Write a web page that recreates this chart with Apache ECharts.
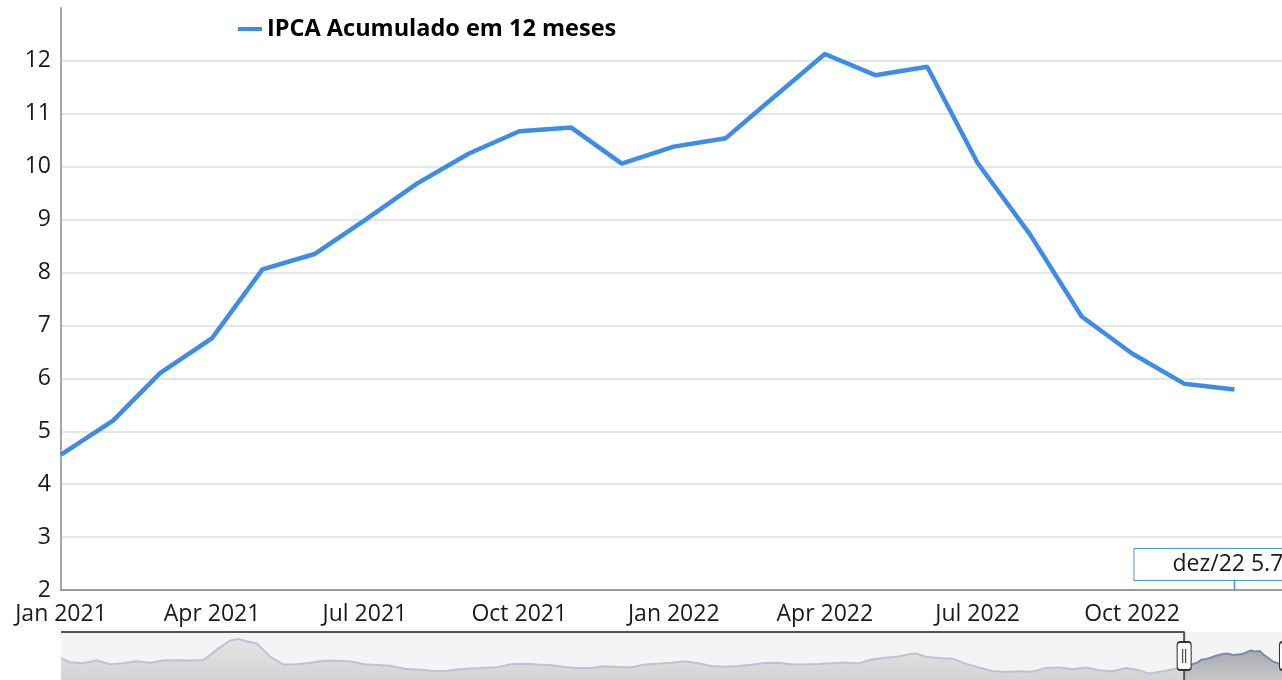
<!DOCTYPE html>
<html>
<head>
<meta charset="utf-8">
<script src="https://cdn.jsdelivr.net/npm/echarts@6/dist/echarts.min.js"></script>
<style>
html,body{margin:0;padding:0;overflow:hidden;background:#fff;}
#c{width:1300px;height:680px;}
</style>
</head>
<body>
<div id="c"></div>
<script>
// ---------------- data ----------------
const seriesName = 'IPCA Acumulado em 12 meses';

// visible window: monthly IPCA 12-month accumulated (%)
const months = ['2021-01-01','2021-02-01','2021-03-01','2021-04-01','2021-05-01','2021-06-01',
                '2021-07-01','2021-08-01','2021-09-01','2021-10-01','2021-11-01','2021-12-01',
                '2022-01-01','2022-02-01','2022-03-01','2022-04-01','2022-05-01','2022-06-01',
                '2022-07-01','2022-08-01','2022-09-01','2022-10-01','2022-11-01','2022-12-01'];
const ipca = [4.56, 5.20, 6.10, 6.76, 8.06, 8.35, 8.99, 9.68, 10.25, 10.67, 10.74, 10.06,
              10.38, 10.54, 11.30, 12.13, 11.73, 11.89, 10.07, 8.73, 7.17, 6.47, 5.90, 5.79];

// earlier history shown in the range selector
const histDates = ['2000-01-01','2000-03-01','2000-06-01','2000-09-01','2000-12-01',
  '2001-03-01','2001-06-01','2001-09-01','2001-12-01',
  '2002-03-01','2002-06-01','2002-09-01','2002-12-01',
  '2003-03-01','2003-05-01','2003-06-01','2003-09-01','2003-12-01',
  '2004-03-01','2004-06-01','2004-09-01','2004-12-01',
  '2005-03-01','2005-06-01','2005-09-01','2005-12-01',
  '2006-03-01','2006-06-01','2006-09-01','2006-12-01',
  '2007-03-01','2007-06-01','2007-09-01','2007-12-01',
  '2008-03-01','2008-06-01','2008-09-01','2008-12-01',
  '2009-03-01','2009-06-01','2009-09-01','2009-12-01',
  '2010-03-01','2010-06-01','2010-09-01','2010-12-01',
  '2011-03-01','2011-06-01','2011-09-01','2011-12-01',
  '2012-03-01','2012-06-01','2012-09-01','2012-12-01',
  '2013-03-01','2013-06-01','2013-09-01','2013-12-01',
  '2014-03-01','2014-06-01','2014-09-01','2014-12-01',
  '2015-03-01','2015-06-01','2015-09-01','2015-12-01',
  '2016-01-01','2016-03-01','2016-06-01','2016-09-01','2016-12-01',
  '2017-03-01','2017-06-01','2017-09-01','2017-12-01',
  '2018-03-01','2018-06-01','2018-09-01','2018-12-01',
  '2019-03-01','2019-06-01','2019-09-01','2019-12-01',
  '2020-03-01','2020-05-01','2020-06-01','2020-09-01','2020-12-01'];
const histValues = [8.85, 6.92, 6.51, 7.77, 5.97,
  6.44, 7.35, 6.71, 7.67,
  7.75, 7.66, 7.93, 12.53,
  16.57, 17.24, 16.57, 15.14, 9.30,
  5.89, 6.06, 6.71, 7.60,
  7.54, 7.27, 6.04, 5.69,
  5.32, 4.03, 3.70, 3.14,
  2.96, 3.69, 4.15, 4.46,
  4.73, 6.06, 6.25, 5.90,
  5.61, 4.80, 4.34, 4.31,
  5.17, 4.84, 4.70, 5.91,
  6.30, 6.71, 7.31, 6.50,
  5.24, 4.92, 5.28, 5.84,
  6.59, 6.70, 5.86, 5.91,
  6.15, 6.52, 6.75, 6.41,
  8.13, 8.89, 9.49, 10.67,
  10.71, 9.39, 8.84, 8.48, 6.29,
  4.57, 3.00, 2.54, 2.95,
  2.68, 4.39, 4.53, 3.75,
  4.58, 3.37, 2.89, 4.31,
  3.30, 1.88, 2.13, 3.14, 4.52];

const monthNamesEn = ['Jan','Feb','Mar','Apr','May','Jun','Jul','Aug','Sep','Oct','Nov','Dec'];
const monthNamesPt = ['jan','fev','mar','abr','mai','jun','jul','ago','set','out','nov','dez'];

const yMin = 2, yMax = 13, yStep = 1;
const windowStart = '2021-01-01', windowEnd = '2023-01-01';

// ---------------- chart ----------------
const FONT = "'Open Sans', 'DejaVu Sans', sans-serif";
const LINE = '#3d8de8';
const MINI_MIN = -1, MINI_MAX = 20.4;
const miniMid = (MINI_MIN + MINI_MAX) / 2;

const ts = s => +echarts.time.parse(s);
const mainData = months.map((d, i) => [d, ipca[i]]);
const histData = histDates.map((d, i) => [d, histValues[i]]).concat([[months[0], ipca[0]]]);
const last = months.length - 1;
const annText = monthNamesPt[+months[last].slice(5, 7) - 1] + '/' + months[last].slice(2, 4) + ' ' + ipca[last];
// frame of the range selector: along the top of the unselected part, then down at the window start
const frameData = [[histDates[0], MINI_MAX], [months[0], MINI_MAX], [months[0], MINI_MIN]];

const HANDLE = 'path://M3,0 L11,0 Q14,0 14,3 L14,25 Q14,28 11,28 L3,28 Q0,28 0,25 L0,3 Q0,0 3,0 Z M5.5,7 L5.5,21 M8.5,7 L8.5,21';
const DAY = 86400000;

const chart = echarts.init(document.getElementById('c'), null, {renderer: 'canvas'});
chart.setOption({
  animation: false,
  textStyle: {fontFamily: FONT},
  legend: {
    data: [seriesName],
    left: 238, top: 17, padding: 0,
    icon: 'rect', itemWidth: 24, itemHeight: 4,
    textStyle: {fontFamily: FONT, fontSize: 23.5, fontWeight: 'bold', color: '#000'}
  },
  grid: [
    {left: 61, right: 13.5, top: 8, bottom: 90},
    {left: 61, right: 13.5, top: 632, height: 48, show: true, backgroundColor: '#f4f4f4', borderWidth: 0}
  ],
  xAxis: [
    {
      type: 'time', gridIndex: 0, min: windowStart, max: windowEnd,
      splitNumber: 8, minInterval: 91 * DAY, maxInterval: 91 * DAY,
      axisLine: {lineStyle: {color: '#9c9c9c', width: 2}},
      axisTick: {show: false},
      splitLine: {show: false},
      axisLabel: {
        fontFamily: FONT, fontSize: 23, color: '#1a1a1a', margin: 13,
        showMinLabel: true, showMaxLabel: false, hideOverlap: false,
        formatter: v => { const d = new Date(v); return monthNamesEn[d.getMonth()] + ' ' + d.getFullYear(); }
      }
    },
    {type: 'time', gridIndex: 1, min: 'dataMin', max: 'dataMax', show: false}
  ],
  yAxis: [
    {
      type: 'value', gridIndex: 0, min: yMin, max: yMax, interval: yStep,
      axisLine: {show: true, lineStyle: {color: '#a6a6a6', width: 2}},
      axisTick: {show: false},
      axisLabel: {fontFamily: FONT, fontSize: 23, color: '#1a1a1a', margin: 10, showMaxLabel: false},
      splitLine: {show: true, showMinLine: false, showMaxLine: false, lineStyle: {color: '#dedede', width: 1.5}}
    },
    {type: 'value', gridIndex: 1, min: MINI_MIN, max: MINI_MAX, show: false}
  ],
  series: [
    {
      name: seriesName, type: 'line', xAxisIndex: 0, yAxisIndex: 0,
      data: mainData, showSymbol: false, symbol: 'none',
      lineStyle: {color: LINE, width: 4.5}, itemStyle: {color: LINE}, z: 3,
      markPoint: {
        silent: true,
        symbol: 'rect', symbolSize: [1.5, 10], symbolOffset: [0, -5],
        itemStyle: {color: '#4a90e2'},
        label: {
          show: true, position: 'top', distance: 0, formatter: annText,
          backgroundColor: '#fff', borderColor: '#4a90e2', borderWidth: 1,
          width: 200, height: 31, lineHeight: 31, padding: 0,
          fontFamily: FONT, fontSize: 23, color: '#1a1a1a'
        },
        data: [{coord: [ts(months[last]), yMin]}]
      }
    },
    {
      type: 'line', xAxisIndex: 1, yAxisIndex: 1, data: histData, silent: true,
      showSymbol: false, symbol: 'none',
      lineStyle: {color: '#bac4d7', width: 2},
      areaStyle: {origin: 'start', opacity: 1,
        color: new echarts.graphic.LinearGradient(0, 0, 0, 1, [{offset: 0, color: '#e4e4e4'}, {offset: 1, color: '#d4d4d4'}])}
    },
    {
      type: 'line', xAxisIndex: 1, yAxisIndex: 1, data: mainData, silent: true,
      showSymbol: false, symbol: 'none',
      lineStyle: {color: '#7b8ab0', width: 2},
      areaStyle: {origin: 'start', opacity: 1,
        color: new echarts.graphic.LinearGradient(0, 0, 0, 1, [{offset: 0, color: '#a9abb1'}, {offset: 1, color: '#c6c6c6'}])},
      markPoint: {
        silent: true, symbol: HANDLE, symbolSize: [14, 28], z: 6,
        itemStyle: {color: '#fff', borderColor: '#333', borderWidth: 1.5},
        label: {show: false},
        data: [{coord: [ts(months[0]), miniMid]}, {coord: [ts(months[last]), miniMid]}]
      }
    },
    {
      type: 'line', xAxisIndex: 1, yAxisIndex: 1, data: frameData, silent: true,
      clip: false, showSymbol: false, symbol: 'none', z: 4,
      lineStyle: {color: '#555', width: 2}
    }
  ]
});
</script>
</body>
</html>
